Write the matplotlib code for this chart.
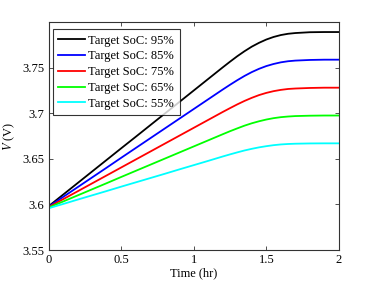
import matplotlib
matplotlib.use("Agg")
import matplotlib.pyplot as plt

time_hr = [0.0, 0.1, 0.2, 0.3, 0.4, 0.5, 0.6, 0.7, 0.8, 0.9, 1.0, 1.1, 1.2,
           1.25, 1.3, 1.35, 1.4, 1.45, 1.5, 1.55, 1.6, 1.65, 1.7, 1.8, 1.9, 2.0]

v_95 = [3.5980, 3.6107, 3.6234, 3.6361, 3.6488, 3.6615, 3.6741, 3.6868, 3.6995, 3.7122, 3.7249, 3.7376, 3.7503,
        3.7565, 3.7625, 3.7680, 3.7730, 3.7772, 3.7808, 3.7836, 3.7857, 3.7871, 3.7879, 3.7888, 3.7890, 3.7890]
v_85 = [3.5975, 3.6082, 3.6189, 3.6296, 3.6403, 3.6511, 3.6618, 3.6725, 3.6832, 3.6939, 3.7046, 3.7153, 3.7260,
        3.7312, 3.7362, 3.7409, 3.7451, 3.7487, 3.7517, 3.7540, 3.7558, 3.7570, 3.7577, 3.7584, 3.7587, 3.7587]
v_75 = [3.5970, 3.6057, 3.6144, 3.6231, 3.6318, 3.6405, 3.6492, 3.6579, 3.6666, 3.6753, 3.6840, 3.6927, 3.7014,
        3.7056, 3.7097, 3.7135, 3.7169, 3.7199, 3.7223, 3.7242, 3.7256, 3.7266, 3.7271, 3.7277, 3.7280, 3.7280]
v_65 = [3.5965, 3.6032, 3.6099, 3.6166, 3.6233, 3.6301, 3.6368, 3.6435, 3.6502, 3.6569, 3.6636, 3.6703, 3.6770,
        3.6803, 3.6834, 3.6864, 3.6890, 3.6912, 3.6931, 3.6946, 3.6957, 3.6964, 3.6969, 3.6973, 3.6975, 3.6975]
v_55 = [3.5958, 3.6005, 3.6053, 3.6100, 3.6147, 3.6195, 3.6242, 3.6289, 3.6336, 3.6384, 3.6431, 3.6478, 3.6526,
        3.6549, 3.6571, 3.6592, 3.6610, 3.6626, 3.6639, 3.6650, 3.6658, 3.6663, 3.6666, 3.6669, 3.6670, 3.6670]

series = [v_95, v_85, v_75, v_65, v_55]
labels = ["Target SoC: 95%", "Target SoC: 85%", "Target SoC: 75%",
          "Target SoC: 65%", "Target SoC: 55%"]
colors = ["#000000", "#0000ff", "#ff0000", "#00ff00", "#00ffff"]

x_ticks = [0, 0.5, 1, 1.5, 2]
x_tick_labels = ["0", "0.5", "1", "1.5", "2"]
y_ticks = [3.55, 3.6, 3.65, 3.7, 3.75]
y_tick_labels = ["3.55", "3.6", "3.65", "3.7", "3.75"]

plt.rcParams['font.family'] = ['Liberation Serif', 'DejaVu Serif']
plt.rcParams['mathtext.fontset'] = 'stix'

fig = plt.figure(figsize=(3.74, 2.81), dpi=100)
ax = fig.add_axes([0.1297, 0.110, 0.9062 - 0.1297, 0.9217 - 0.110])

for v, lab, c in zip(series, labels, colors):
    ax.plot(time_hr, v, color=c, lw=1.3, label=lab)

ax.set_xlim(0, 2)
ax.set_ylim(3.55, 3.8)
ax.set_xticks(x_ticks)
ax.set_xticklabels(x_tick_labels)
ax.set_yticks(y_ticks)
ax.set_yticklabels(y_tick_labels)
ax.tick_params(direction='in', top=True, right=True, length=3, width=0.6,
               labelsize=9, colors='#333333', labelcolor='black', pad=3)
for s in ax.spines.values():
    s.set_color('#333333')
    s.set_linewidth(0.8)

ax.set_xlabel("Time (hr)", fontsize=9, labelpad=1)
ax.set_ylabel("$V$ (V)", fontsize=9, labelpad=4)

leg = ax.legend(loc='upper left', bbox_to_anchor=(0.0145, 0.969), borderaxespad=0,
                fontsize=9, frameon=True, fancybox=False,
                edgecolor='black', handlelength=2.1, handletextpad=0.3,
                labelspacing=0.3, borderpad=0.45)
leg.get_frame().set_linewidth(0.8)

fig.savefig("out.png", dpi=100)
